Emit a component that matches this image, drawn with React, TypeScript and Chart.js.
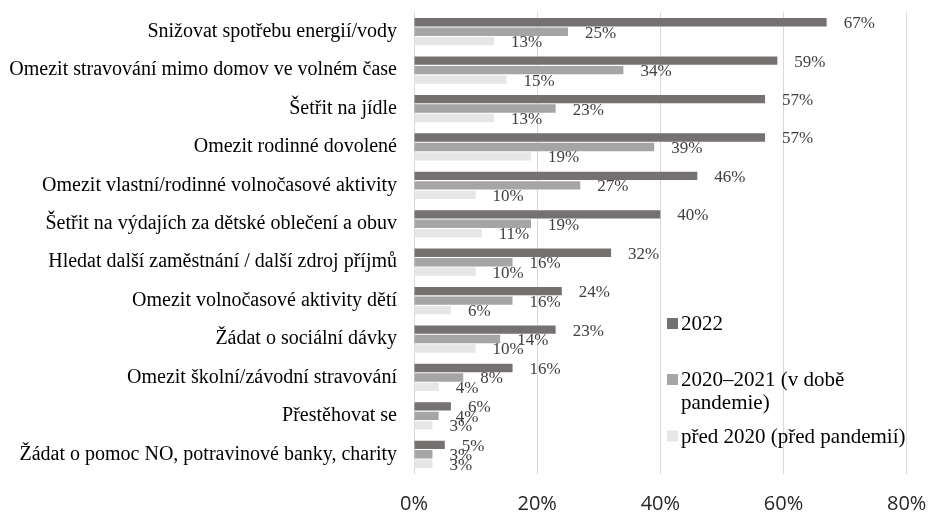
import { useEffect, useRef } from 'react';
import { Chart, registerables } from 'chart.js';

Chart.register(...registerables);

const categories = [
  'Snižovat spotřebu energií/vody',
  'Omezit stravování mimo domov ve volném čase',
  'Šetřit na jídle',
  'Omezit rodinné dovolené',
  'Omezit vlastní/rodinné volnočasové aktivity',
  'Šetřit na výdajích za dětské oblečení a obuv',
  'Hledat další zaměstnání / další zdroj příjmů',
  'Omezit volnočasové aktivity dětí',
  'Žádat o sociální dávky',
  'Omezit školní/závodní stravování',
  'Přestěhovat se',
  'Žádat o pomoc NO, potravinové banky, charity',
];

const values2022 = [67, 59, 57, 57, 46, 40, 32, 24, 23, 16, 6, 5];
const values2020to2021 = [25, 34, 23, 39, 27, 19, 16, 16, 14, 8, 4, 3];
const valuesBefore2020 = [13, 15, 13, 19, 10, 11, 10, 6, 10, 4, 3, 3];

const seriesNames = ['2022', '2020–2021 (v době pandemie)', 'před 2020 (před pandemií)'];
const seriesColors = ['#767171', '#a5a5a5', '#e7e6e6'];
const xTickValues = [0, 20, 40, 60, 80];

const SERIF = '"Liberation Serif", "Times New Roman", serif';

const valueLabelPlugin = {
  id: 'valueLabels',
  afterDatasetsDraw(chart: any) {
    const ctx = chart.ctx;
    ctx.save();
    ctx.font = `17px ${SERIF}`;
    ctx.fillStyle = '#404040';
    ctx.textAlign = 'left';
    ctx.textBaseline = 'middle';
    chart.data.datasets.forEach((ds: any, i: number) => {
      const meta = chart.getDatasetMeta(i);
      meta.data.forEach((el: any, j: number) => {
        ctx.fillText(`${ds.data[j]}%`, el.x + 17, el.y + 1.5);
      });
    });
    ctx.restore();
  },
};

const legendPlugin = {
  id: 'customLegend',
  afterDraw(chart: any) {
    const ctx = chart.ctx;
    const area = chart.chartArea;
    ctx.save();
    ctx.font = `21px ${SERIF}`;
    ctx.textAlign = 'left';
    ctx.textBaseline = 'alphabetic';
    const boxX = area.left + 253;
    const textX = boxX + 14;
    const maxWidth = chart.width - textX - 4;
    const baselines = [330, 386, 442.5];
    const lineHeight = 23;
    chart.data.datasets.forEach((ds: any, i: number) => {
      const base = baselines[i];
      ctx.fillStyle = ds.backgroundColor;
      ctx.fillRect(boxX, base - 12, 11, 11);
      const words = String(ds.label).split(' ');
      const lines: string[] = [];
      let cur = '';
      words.forEach((w) => {
        const test = cur ? cur + ' ' + w : w;
        if (cur && ctx.measureText(test).width > maxWidth) {
          lines.push(cur);
          cur = w;
        } else {
          cur = test;
        }
      });
      if (cur) lines.push(cur);
      ctx.fillStyle = '#000000';
      lines.forEach((ln, k) => ctx.fillText(ln, textX, base + k * lineHeight));
    });
    ctx.restore();
  },
};

const zeroPadding = (scale: any) => {
  scale.paddingTop = 0;
  scale.paddingBottom = 0;
  scale.paddingLeft = 0;
  scale.paddingRight = 0;
};

export default function App() {
  const canvasRef = useRef<HTMLCanvasElement | null>(null);

  useEffect(() => {
    if (!canvasRef.current) return;
    const chart = new Chart(canvasRef.current, {
      type: 'bar',
      data: {
        labels: categories,
        datasets: [
          { label: seriesNames[0], data: values2022, backgroundColor: seriesColors[0] },
          { label: seriesNames[1], data: values2020to2021, backgroundColor: seriesColors[1] },
          { label: seriesNames[2], data: valuesBefore2020, backgroundColor: seriesColors[2] },
        ],
      },
      options: {
        indexAxis: 'y',
        responsive: false,
        animation: false,
        devicePixelRatio: 1,
        layout: { padding: { top: 12.5, right: 21.3, left: 0, bottom: 0 } },
        datasets: {
          bar: { categoryPercentage: 0.74, barPercentage: 0.88 },
        },
        plugins: {
          legend: { display: false },
          tooltip: { enabled: false },
        },
        scales: {
          x: {
            type: 'linear',
            min: 0,
            max: 80,
            afterBuildTicks: (scale: any) => {
              scale.ticks = xTickValues.map((v) => ({ value: v }));
            },
            afterFit: (scale: any) => {
              scale.height = 41.5;
              zeroPadding(scale);
            },
            grid: { color: '#d9d9d9', lineWidth: 1, drawTicks: false },
            border: { display: false },
            ticks: {
              padding: 19,
              color: '#262626',
              font: { family: '"Open Sans", "Noto Sans", sans-serif', size: 20 },
              callback: (v: any) => `${v}%`,
            },
          },
          y: {
            type: 'category',
            afterFit: (scale: any) => {
              scale.width = 414;
              zeroPadding(scale);
            },
            grid: { display: false, drawTicks: false },
            border: { display: false },
            ticks: {
              padding: 17,
              color: '#000000',
              font: { family: SERIF, size: 20 },
              autoSkip: false,
            },
          },
        },
      },
      plugins: [valueLabelPlugin, legendPlugin],
    } as any);
    return () => chart.destroy();
  }, []);

  return (
    <div style={{ position: 'absolute', left: 0, top: 0, width: 928, height: 515, background: '#fff' }}>
      <canvas ref={canvasRef} width={928} height={515} style={{ display: 'block' }} />
    </div>
  );
}
